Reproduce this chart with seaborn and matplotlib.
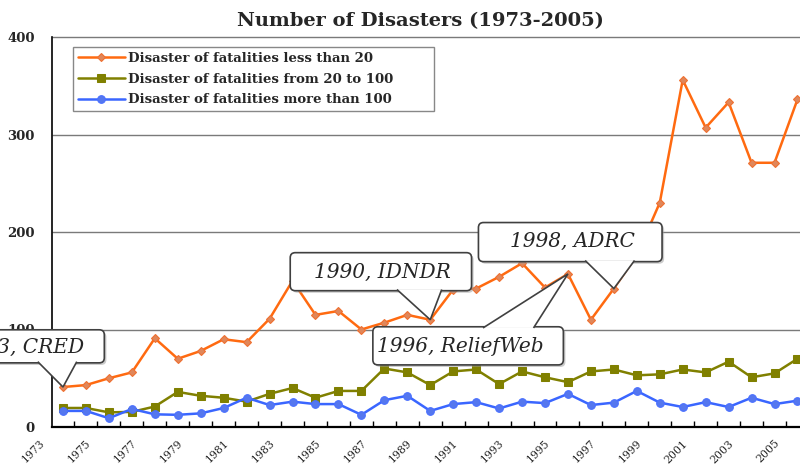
import matplotlib
matplotlib.use('Agg')
import matplotlib.pyplot as plt
import matplotlib.transforms as mtransforms
import matplotlib.patheffects as pe
from matplotlib.patches import FancyBboxPatch, Polygon
import seaborn as sns

# years as labelled on the category axis of the original chart
years = list(range(1974, 2007))

less_than_20 = [41, 43, 50, 56, 91, 70, 78, 90, 87, 111,
                150, 115, 119, 100, 107, 115, 110, 141, 142, 154,
                168, 143, 157, 110, 142, 176, 230, 356, 307, 333,
                271, 271, 336]
from_20_to_100 = [19.5, 19.5, 15, 15.5, 21, 36, 32, 30, 26, 34,
                  40, 30, 37, 37, 60, 56, 43, 57, 59, 44,
                  57, 51, 46, 57, 59, 53, 54, 59, 56, 67,
                  51, 55, 70]
more_than_100 = [16.5, 16.5, 9, 18.5, 13, 12.5, 14, 19.5, 30, 22.5,
                 26, 23.5, 23.5, 12.5, 27.5, 32, 16.5, 23.5, 25.5, 19,
                 26, 24.5, 34, 22.5, 25, 37, 25, 20.5, 25.5, 20.5,
                 30, 23.5, 27]

year_labels = list(range(1973, 2006, 2))

# callouts (pointing at the "less than 20" series)
callout_text = ['1973, CRED', '1990, IDNDR', '1998, ADRC', '1996, ReliefWeb']
callout_year = [1974, 1990, 1998, 1996]
# box extents in data units: (x left, x right, y bottom, y top)
callout_box = [(1967.9, 1975.8, 65.8, 99.7), (1983.9, 1991.8, 139.8, 178.8),
               (1992.1, 2000.1, 169.6, 209.7), (1987.5, 1995.8, 63.7, 102.8)]
callout_textpos = [(1972.2, 82), (1987.9, 159), (1996.2, 190), (1991.3, 83)]
tail_base = [(1972.9, 1974.6), (1988.55, 1990.5), (1996.75, 1998.9), (1992.3, 1994.5)]
tail_side = ['bottom', 'bottom', 'bottom', 'top']

sns.set_theme(style='white')
plt.rcParams['font.family'] = ['DejaVu Serif']

fig = plt.figure(figsize=(8, 4.68), dpi=100)
ax = fig.add_axes([0, 41 / 468, 1, 390 / 468])

x0, x1 = 1973.5, 2006.11

ax.hlines([100, 200, 300, 400], x0, x1, colors='#7a7a7a', lw=1, zorder=1, clip_on=False)

sns.lineplot(x=years, y=less_than_20, ax=ax, color='#ff6a10', lw=1.8,
             marker='D', markersize=4.5, mfc='#e0875a', mec='#f07030', mew=0.8,
             label='Disaster of fatalities less than 20', zorder=4)
sns.lineplot(x=years, y=from_20_to_100, ax=ax, color='#808000', lw=1.8,
             marker='s', markersize=5.2, mfc='#808000', mec='#808000',
             label='Disaster of fatalities from 20 to 100', zorder=3)
sns.lineplot(x=years, y=more_than_100, ax=ax, color='#3a66ff', lw=1.8,
             marker='o', markersize=5.5, mfc='#5577ee', mec='#4a70ff', mew=0.8,
             label='Disaster of fatalities more than 100', zorder=3)

ax.set_xlim(1971.255, x1)
ax.set_ylim(0, 400)

for s in ['top', 'right']:
    ax.spines[s].set_visible(False)
ax.spines['left'].set_position(('data', x0))
ax.spines['left'].set_bounds(0, 400)
ax.spines['left'].set_color('black')
ax.spines['left'].set_linewidth(1.2)
ax.spines['bottom'].set_bounds(x0, x1)
ax.spines['bottom'].set_color('black')
ax.spines['bottom'].set_linewidth(1.6)

ax.set_yticks([0, 100, 200, 300, 400])
ax.tick_params(axis='y', direction='in', length=5, width=1, color='black',
               pad=12, labelsize=9.5)
for lab in ax.get_yticklabels():
    lab.set_fontweight('bold')

ax.set_xticks(year_labels)
ax.set_xticklabels([str(y) for y in year_labels], rotation=45, ha='right', va='top')
ax.set_xticks([y + 0.5 for y in years[:-1]], minor=True)
ax.tick_params(axis='x', which='major', length=0, pad=8, labelsize=7.8)
ax.tick_params(axis='x', which='minor', direction='in', length=4, width=1,
               color='black', bottom=True)
shift = mtransforms.ScaledTranslation(5 / 72, 0, fig.dpi_scale_trans)
for lab in ax.get_xticklabels():
    lab.set_transform(lab.get_transform() + shift)

ax.set_xlabel('')
ax.set_ylabel('')
ax.set_title('Number of Disasters (1973-2005)', fontsize=14, fontweight='bold',
             x=0.525, pad=8)

leg = ax.legend(loc='upper left',
                bbox_to_anchor=(73 / 800, 1 - 111 / 468, 361 / 800, 64 / 468),
                bbox_transform=fig.transFigure, mode='expand', borderaxespad=0,
                prop=dict(family='DejaVu Serif', weight='bold', size=9.5),
                frameon=True, fancybox=False, framealpha=1, borderpad=0.35,
                labelspacing=0.6, handlelength=3.6, handletextpad=0.2)
leg.get_frame().set_edgecolor('#888888')
leg.get_frame().set_linewidth(1)

# rounded callout boxes with a triangular tail onto the data point
aspect = 22.95 / 0.973  # value units per year unit on screen
for i, text in enumerate(callout_text):
    bx0, bx1, by0, by1 = callout_box[i]
    box = FancyBboxPatch((bx0, by0), bx1 - bx0, by1 - by0,
                         boxstyle='round,pad=0,rounding_size=0.22',
                         mutation_aspect=aspect, fc='white', ec='#404040', lw=1.2,
                         zorder=10, clip_on=False,
                         path_effects=[pe.SimplePatchShadow(offset=(1.5, -1.5),
                                                            shadow_rgbFace='#999999',
                                                            alpha=0.5),
                                       pe.Normal()])
    ax.add_patch(box)
    yr = callout_year[i]
    tip = (yr, less_than_20[years.index(yr)])
    edge = by0 + 1.2 if tail_side[i] == 'bottom' else by1 - 1.2
    xa, xb = tail_base[i]
    tail = Polygon([(xa, edge), tip, (xb, edge)], closed=False, fc='white',
                   ec='#404040', lw=1.2, zorder=11, clip_on=False)
    ax.add_patch(tail)
    tx, ty = callout_textpos[i]
    ax.text(tx, ty, text, ha='center', va='center', fontsize=14.5, style='italic',
            zorder=12, clip_on=False)

fig.savefig('out.png', dpi=100)
